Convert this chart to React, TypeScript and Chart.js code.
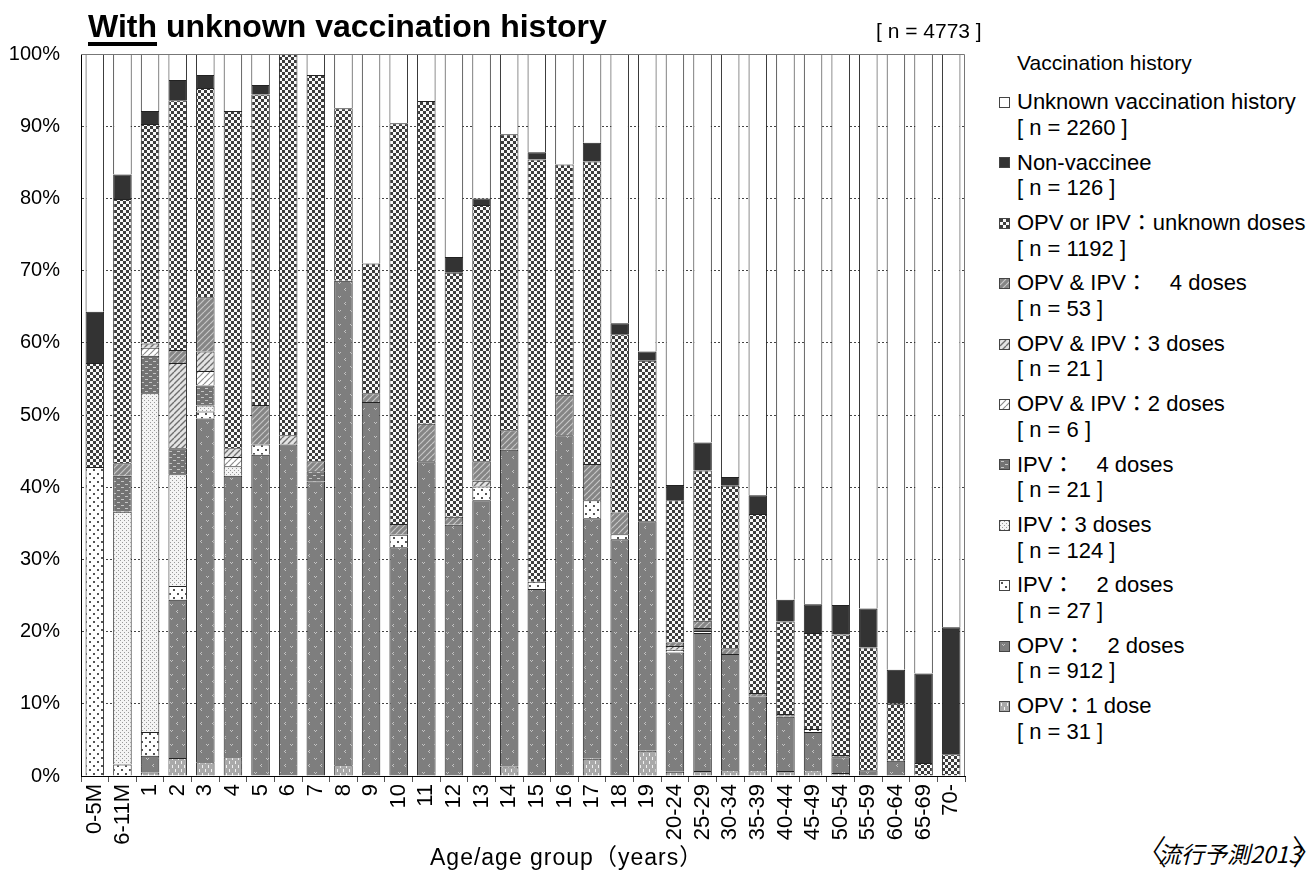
import React, { useEffect, useMemo, useRef } from 'react';
import { Chart, registerables } from 'chart.js';
Chart.register(...registerables);

const FONT = "'Liberation Sans', Arial, 'Noto Sans CJK JP', sans-serif";

const categories = [
  '0-5M', '6-11M', '1', '2', '3', '4', '5', '6', '7', '8', '9', '10', '11', '12', '13', '14', '15', '16', '17', '18', '19',
  '20-24', '25-29', '30-34', '35-39', '40-44', '45-49', '50-54', '55-59', '60-64', '65-69', '70-',
];

// stacked bottom -> top
const opv1Dose = [0, 0, 0.5, 2.5, 1.9, 2.6, 0, 0, 0, 1.5, 0, 0, 0, 0, 0, 1.3, 0, 0, 2.4, 0, 3.5, 0.6, 0.7, 0.8, 0.8, 0.7, 0.8, 0.4, 0, 0, 0, 0];
const opv2Doses = [0, 0, 2.3, 21.9, 47.6, 39.0, 44.5, 45.9, 40.8, 67.1, 51.8, 31.7, 43.6, 34.8, 38.2, 43.9, 25.9, 47.2, 33.3, 32.8, 31.8, 16.5, 19.1, 16.1, 10.2, 7.5, 5.3, 2.2, 0.8, 2.1, 0, 0];
const ipv2Doses = [42.8, 1.6, 3.3, 1.9, 1.0, 0, 1.4, 0, 0, 0, 0, 1.7, 0, 0, 1.9, 0, 1.0, 0, 2.5, 0.7, 0, 0.4, 0.3, 0, 0, 0, 0.4, 0, 0, 0, 0, 0];
const ipv3Doses = [0, 35.0, 46.9, 15.5, 0.8, 1.3, 0, 0, 0, 0, 0, 0, 0, 0, 0, 0, 0, 0, 0, 0, 0, 0, 0, 0, 0, 0, 0, 0, 0, 0, 0, 0];
const ipv4Doses = [0, 5.0, 5.2, 3.6, 2.8, 0, 0, 0, 1.4, 0, 0, 0, 0, 0, 0, 0, 0, 0, 0, 0, 0, 0, 0.4, 0, 0, 0, 0, 0, 0, 0, 0, 0];
const opvIpv2Doses = [0, 0, 1.1, 0, 2.0, 1.3, 0, 0, 0, 0, 0, 0, 0, 0, 0, 0, 0, 0, 0, 0, 0, 0, 0, 0, 0, 0, 0, 0, 0, 0, 0, 0];
const opvIpv3Doses = [0, 0, 0.6, 11.8, 2.7, 1.2, 0, 1.3, 0, 0, 0, 0, 0, 0, 0.8, 0, 0, 0, 0, 0, 0, 0.5, 0, 0, 0, 0, 0, 0, 0, 0, 0, 0];
const opvIpv4Doses = [0, 1.7, 0, 1.8, 7.5, 0, 5.5, 0, 1.4, 0, 1.2, 1.5, 5.2, 1.1, 2.7, 2.7, 0, 5.6, 5.0, 3.0, 0, 0.5, 1.0, 0.8, 0.5, 0.4, 0, 0.3, 0, 0, 0, 0];
const unknownDoses = [14.4, 36.6, 30.4, 34.6, 29.0, 46.7, 43.0, 52.8, 53.5, 23.9, 18.0, 55.5, 44.7, 33.8, 35.5, 41.0, 58.5, 31.9, 41.9, 24.7, 22.2, 19.7, 20.8, 22.5, 24.8, 12.8, 13.3, 16.7, 17.0, 7.9, 1.8, 3.0];
const nonVaccinee = [7.1, 3.4, 1.8, 2.8, 1.8, 0, 1.3, 0, 0, 0, 0, 0, 0, 2.2, 0.9, 0, 1.0, 0, 2.6, 1.5, 1.3, 2.1, 3.9, 1.2, 2.6, 3.0, 4.0, 4.1, 5.4, 4.7, 12.4, 17.6];
const unknownHistory = [35.7, 16.7, 7.9, 3.6, 2.9, 7.9, 4.3, 0, 2.9, 7.5, 29.0, 9.6, 6.5, 28.1, 20.0, 11.1, 13.6, 15.3, 12.3, 37.3, 41.2, 59.7, 53.8, 58.6, 61.1, 75.6, 76.2, 76.3, 76.8, 85.3, 85.8, 79.4];

const seriesKeys = ['opv1', 'opv2', 'ipv2', 'ipv3', 'ipv4', 'oi2', 'oi3', 'oi4', 'unk', 'non', 'uh'];
const seriesData = [opv1Dose, opv2Doses, ipv2Doses, ipv3Doses, ipv4Doses, opvIpv2Doses, opvIpv3Doses, opvIpv4Doses, unknownDoses, nonVaccinee, unknownHistory];
const seriesLabels = [
  'OPV：1 dose',
  'OPV：　2 doses',
  'IPV：　2 doses',
  'IPV：3 doses',
  'IPV：　4 doses',
  'OPV & IPV：2 doses',
  'OPV & IPV：3 doses',
  'OPV & IPV：　4 doses',
  'OPV or IPV：unknown doses',
  'Non-vaccinee',
  'Unknown vaccination history',
];
const seriesCounts = ['[ n = 31 ]', '[ n = 912 ]', '[ n = 27 ]', '[ n = 124 ]', '[ n = 21 ]', '[ n = 6 ]', '[ n = 21 ]', '[ n = 53 ]', '[ n = 1192 ]', '[ n = 126 ]', '[ n = 2260 ]'];

type Fill = string | HTMLCanvasElement;

function tile(w: number, h: number, bg: string, draw?: (c: CanvasRenderingContext2D) => void) {
  const cv = document.createElement('canvas');
  cv.width = w;
  cv.height = h;
  const c = cv.getContext('2d')!;
  c.fillStyle = bg;
  c.fillRect(0, 0, w, h);
  if (draw) draw(c);
  return cv;
}

function diag(c: CanvasRenderingContext2D, w: number, h: number, color: string, lw: number) {
  c.strokeStyle = color;
  c.lineWidth = lw;
  c.beginPath();
  for (let k = -1; k <= 1; k++) {
    c.moveTo(k * w, h);
    c.lineTo(k * w + w, 0);
  }
  c.stroke();
}

function makeTiles(): Record<string, Fill> {
  return {
    opv1: tile(6, 8, '#a9a9a9', (c) => {
      c.fillStyle = '#f2f2f2';
      c.fillRect(1, 1, 1, 3);
      c.fillRect(4, 5, 1, 3);
    }),
    opv2: tile(12, 14, '#7e7e7e', (c) => {
      c.fillStyle = '#c4c4c4';
      c.fillRect(2, 2, 1, 1);
      c.fillRect(3, 3, 1, 1);
      c.fillRect(4, 2, 1, 1);
      c.fillRect(9, 8, 1, 1);
      c.fillRect(8, 9, 1, 1);
      c.fillRect(9, 10, 1, 1);
    }),
    ipv2: tile(8, 8, '#ffffff', (c) => {
      c.fillStyle = '#555';
      c.fillRect(1, 1, 2, 2);
      c.fillRect(5, 5, 2, 2);
    }),
    ipv3: tile(4, 4, '#f4f4f4', (c) => {
      c.fillStyle = '#9a9a9a';
      c.fillRect(0, 0, 1, 1);
      c.fillRect(2, 2, 1, 1);
    }),
    ipv4: tile(8, 6, '#737373', (c) => {
      c.fillStyle = '#c6c6c6';
      c.fillRect(1, 1, 3, 1);
      c.fillRect(5, 4, 3, 1);
    }),
    oi2: tile(6, 6, '#ffffff', (c) => diag(c, 6, 6, '#8c8c8c', 1.2)),
    oi3: tile(6, 6, '#e4e4e4', (c) => diag(c, 6, 6, '#6e6e6e', 1.4)),
    oi4: tile(6, 6, '#858585', (c) => diag(c, 6, 6, '#c8c8c8', 1.2)),
    unk: tile(6, 6, '#f8f8f8', (c) => {
      c.fillStyle = '#3c3c3c';
      c.fillRect(0, 0, 3, 3);
      c.fillRect(3, 3, 3, 3);
    }),
    non: '#333333',
    uh: '#ffffff',
  };
}

const legendOrder = [10, 9, 8, 7, 6, 5, 4, 3, 2, 1, 0];

export default function App() {
  const canvasRef = useRef<HTMLCanvasElement | null>(null);
  const tiles = useMemo(() => makeTiles(), []);
  const icons = useMemo(() => {
    const r: Record<string, string> = {};
    for (const k of seriesKeys) {
      const t = tiles[k];
      r[k] = typeof t === 'string' ? t : `url(${t.toDataURL()})`;
    }
    return r;
  }, [tiles]);

  useEffect(() => {
    const cv = canvasRef.current;
    if (!cv) return;
    const ctx = cv.getContext('2d')!;
    const fills = seriesKeys.map((k) => {
      const t = tiles[k];
      return typeof t === 'string' ? t : (ctx.createPattern(t, 'repeat') as CanvasPattern);
    });
    const frame = {
      id: 'frame',
      afterDatasetsDraw(chart: any) {
        const { left, top, right, bottom } = chart.chartArea;
        const c = chart.ctx;
        c.save();
        c.strokeStyle = '#777';
        c.lineWidth = 1;
        c.beginPath();
        c.moveTo(left, top + 0.5);
        c.lineTo(right - 0.5, top + 0.5);
        c.lineTo(right - 0.5, bottom);
        c.stroke();
        c.restore();
      },
    };
    const chart = new Chart(ctx, {
      type: 'bar',
      data: {
        labels: categories,
        datasets: seriesData.map((arr, i) => ({
          label: seriesLabels[i],
          data: arr.map((v) => (v === 0 ? null : v)),
          backgroundColor: fills[i] as any,
          borderColor: '#222',
          borderWidth: 1,
          barPercentage: 0.67,
          categoryPercentage: 1,
        })),
      },
      options: {
        animation: false,
        responsive: true,
        maintainAspectRatio: false,
        layout: { padding: { top: 54, right: 20, left: 0, bottom: 0 } },
        plugins: {
          legend: { display: false },
          tooltip: { enabled: false },
          title: { display: false },
        },
        scales: {
          x: {
            stacked: true,
            grid: { display: true, drawOnChartArea: false, drawTicks: true, tickLength: 6, offset: true, color: '#555' },
            border: { display: true, color: '#000', width: 1 },
            ticks: {
              autoSkip: false,
              maxRotation: 90,
              minRotation: 90,
              padding: 2,
              color: '#000',
              font: { size: 22, family: FONT },
            },
            afterFit: (s: any) => {
              s.height = 94;
            },
          },
          y: {
            stacked: true,
            min: 0,
            max: 100,
            ticks: {
              stepSize: 10,
              callback: (v: any) => v + '%',
              padding: 21,
              color: '#000',
              font: { size: 20, family: FONT },
            },
            grid: { color: '#444', drawTicks: false, lineWidth: 1 },
            border: { display: true, color: '#000', width: 1, dash: [2, 2] },
            afterFit: (s: any) => {
              s.width = 81;
            },
          },
        },
      },
      plugins: [frame],
    });
    return () => chart.destroy();
  }, [tiles]);

  return (
    <div style={{ position: 'fixed', left: 0, top: 0, width: 1315, height: 870, background: '#fff', fontFamily: FONT, color: '#000', overflow: 'hidden' }}>
      <div style={{ position: 'absolute', left: 0, top: 0, width: 985, height: 870 }}>
        <canvas ref={canvasRef} />
      </div>
      <div style={{ position: 'absolute', left: 88, top: 7, fontSize: 32, fontWeight: 'bold', whiteSpace: 'nowrap', lineHeight: '38px' }}>
        <span style={{ textDecoration: 'underline', textDecorationThickness: '4px', textUnderlineOffset: '5px' }}>With</span> unknown vaccination history
      </div>
      <div style={{ position: 'absolute', left: 876, top: 19, fontSize: 21, whiteSpace: 'nowrap' }}>[ n = 4773 ]</div>
      <div style={{ position: 'absolute', left: 1017, top: 51, fontSize: 21, lineHeight: '24px', whiteSpace: 'nowrap' }}>Vaccination history</div>
      {legendOrder.map((si, i) => {
        const cy = 102 + 60.4 * i;
        const k = seriesKeys[si];
        return (
          <React.Fragment key={k}>
            <div
              style={{
                position: 'absolute',
                left: 999,
                top: cy - 5,
                width: 9,
                height: 9,
                border: '1px solid #444',
                background: icons[k].startsWith('url') ? undefined : icons[k],
                backgroundImage: icons[k].startsWith('url') ? icons[k] : undefined,
              }}
            />
            <div style={{ position: 'absolute', left: 1017, top: cy - 12.75, fontSize: 22, lineHeight: '25.5px', whiteSpace: 'nowrap' }}>
              <div>{seriesLabels[si]}</div>
              <div>{seriesCounts[si]}</div>
            </div>
          </React.Fragment>
        );
      })}
      <div style={{ position: 'absolute', left: 430, top: 844, fontSize: 23, lineHeight: '26px', letterSpacing: '1px', whiteSpace: 'nowrap' }}>Age/age group（years）</div>
      <div style={{ position: 'absolute', left: 1133, top: 833, whiteSpace: 'nowrap', display: 'flex', alignItems: 'center', height: 40 }}>
        <span style={{ fontSize: 34, fontWeight: 200, lineHeight: '38px' }}>〈</span>
        <span style={{ fontSize: 23, fontStyle: 'italic', fontFamily: "'Noto Sans CJK JP', sans-serif", margin: '0 -9px' }}>流行予測2013</span>
        <span style={{ fontSize: 34, fontWeight: 200, lineHeight: '38px' }}>〉</span>
      </div>
    </div>
  );
}
